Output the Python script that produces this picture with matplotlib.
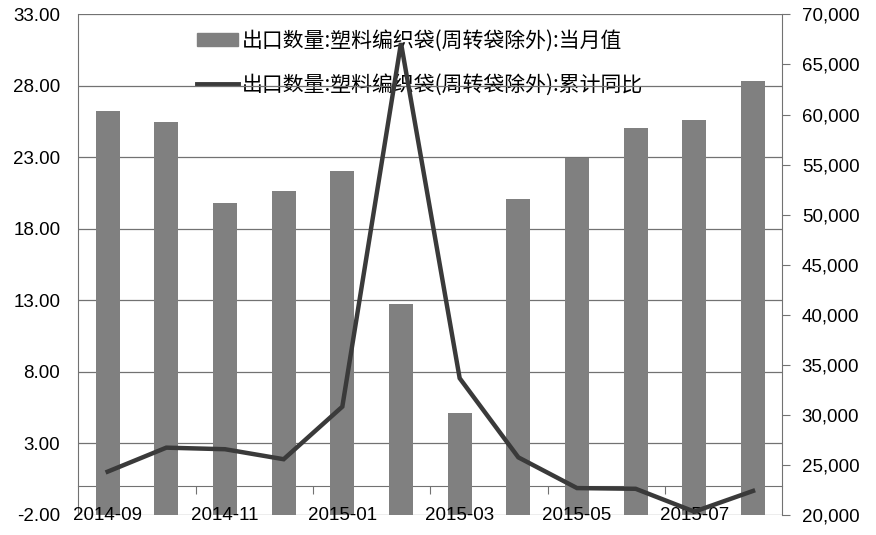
import numpy as np
import matplotlib
matplotlib.use("Agg")
import matplotlib.pyplot as plt
from matplotlib.lines import Line2D
from matplotlib.patches import Patch
from matplotlib.ticker import FuncFormatter

plt.rcParams['font.family'] = ['Liberation Sans', 'DejaVu Sans']

# data
months = ['2014-09', '2014-10', '2014-11', '2014-12', '2015-01', '2015-02',
          '2015-03', '2015-04', '2015-05', '2015-06', '2015-07', '2015-08']
monthly = [60400, 59250, 51200, 52400, 54350, 41050,
           30180, 51550, 55700, 58650, 59450, 63350]
yoy = [1.0, 2.68, 2.57, 1.87, 5.55, 31.0, 7.54, 2.0, -0.15, -0.2, -1.8, -0.35]

bar_label = '出口数量:塑料编织袋(周转袋除外):当月值'
line_label = '出口数量:塑料编织袋(周转袋除外):累计同比'

left_lim = (-2, 33)
right_lim = (20000, 70000)
grid_col = '#727272'
fs = 13.5

fig = plt.figure(figsize=(8.76, 5.35), dpi=100)
ax = fig.add_axes([0.0894, 0.0383, 0.8037, 0.9346])
x = np.arange(len(months))

# bottom layer: left scale, gridlines
ax.set_xlim(-0.5, len(months) - 0.5)
ax.set_ylim(*left_lim)
ax.set_yticks(np.arange(-2, 34, 5))
ax.yaxis.set_major_formatter(FuncFormatter(lambda v, p: f'{v:.2f}'))
ax.grid(axis='y', color=grid_col, lw=0.9)
ax.set_axisbelow(True)
ax.tick_params(axis='y', length=0, pad=13, labelsize=fs)
ax.set_xticks(x[::2])
ax.set_xticklabels(months[::2])
ax.tick_params(axis='x', length=0, labelbottom=False)
for s in ['top', 'bottom']:
    ax.spines[s].set_visible(False)
for s in ['left', 'right']:
    ax.spines[s].set_color(grid_col)

# category axis line crossing at 0
sec = ax.secondary_xaxis((0 - left_lim[0]) / (left_lim[1] - left_lim[0]))
sec.set_xticks(np.arange(1.5, len(months) - 1, 2))
sec.tick_params(axis='x', length=6, color=grid_col, labelbottom=False)
sec.spines['bottom'].set_color(grid_col)

leg = ax.legend(handles=[Patch(color='#808080', label=bar_label),
                         Line2D([], [], color='#3a3a3a', lw=3.5, label=line_label)],
                loc='upper left', bbox_to_anchor=(197 / 876, 1 - 30 / 535),
                bbox_transform=fig.transFigure, frameon=False,
                prop={'family': ['Noto Sans CJK SC', 'DejaVu Sans'], 'size': 15},
                handlelength=1.95, handleheight=0.6, handletextpad=0.2,
                labelspacing=1.05, borderpad=0, borderaxespad=0)
leg.set_zorder(0.1)

# middle layer: bars on right scale
ax2 = ax.twinx()
ax2.bar(x, monthly, width=0.41, color='#808080', zorder=2)
ax2.set_ylim(*right_lim)
ax2.set_yticks(np.arange(20000, 70001, 5000))
ax2.yaxis.set_major_formatter(FuncFormatter(lambda v, p: f'{int(v):,}'))
ax2.tick_params(axis='y', length=6, color=grid_col, pad=8, labelsize=fs)
for s in ax2.spines.values():
    s.set_visible(False)

# top layer: line on left scale, month labels drawn over the bars
ax3 = ax.twinx()
ax3.set_ylim(*left_lim)
ax3.plot(x, yoy, color='#3a3a3a', lw=3.2, solid_joinstyle='miter')
ax3.set_yticks([])
ax3.xaxis.set_visible(True)
ax3.tick_params(axis='x', length=0, pad=-5.5, labelsize=fs, labelbottom=True)
for s in ax3.spines.values():
    s.set_visible(False)

fig.savefig('out.png', dpi=100)
